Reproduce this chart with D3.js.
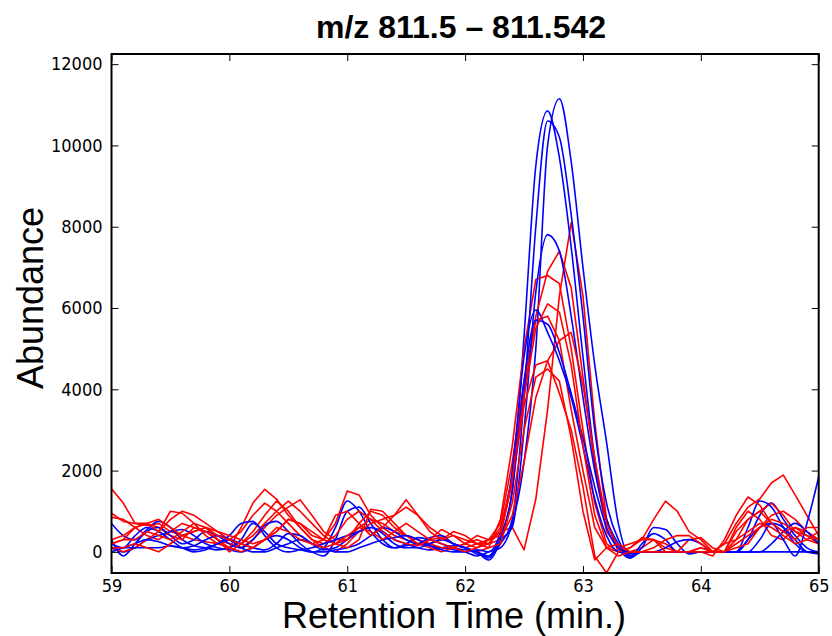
<!DOCTYPE html>
<html>
<head>
<meta charset="utf-8">
<script src="https://cdn.jsdelivr.net/npm/d3@7"></script>
<style>
  body { margin: 0; background: #fff; }
  .tick text { font-family: "DejaVu Sans Condensed", "DejaVu Sans", sans-serif; font-size: 18px; fill: #000; }
  .tick line { stroke: #000; stroke-width: 1; }
</style>
</head>
<body>
<svg id="chart" width="832" height="636"></svg>
<script>
var times = [
  59.0, 59.1, 59.2, 59.3, 59.4, 59.5, 59.6, 59.7, 59.8, 59.9,
  60.0, 60.1, 60.2, 60.3, 60.4, 60.5, 60.6, 60.7, 60.8, 60.9,
  61.0, 61.1, 61.2, 61.3, 61.4, 61.5, 61.6, 61.7, 61.8, 61.9,
  62.0, 62.1, 62.2, 62.3, 62.4, 62.5, 62.6, 62.7, 62.8, 62.9,
  63.0, 63.1, 63.2, 63.3, 63.4, 63.5, 63.6, 63.7, 63.8, 63.9,
  64.0, 64.1, 64.2, 64.3, 64.4, 64.5, 64.6, 64.7, 64.8, 64.9, 65.0
];

var xTicks = [59, 60, 61, 62, 63, 64, 65];
var yTicks = [0, 2000, 4000, 6000, 8000, 10000, 12000];

// red runs
var red1 = [1550, 1200, 700, 650, 700, 500, 400, 300, 250, 200,
  300, 500, 900, 1200, 1000, 700, 400, 200, 300, 700,
  1500, 1400, 900, 600, 400, 300, 200, 300, 350, 200,
  100, 200, 300, 500, 600, 50, 1300, 3500, 6300, 8100,
  6300, 3200, 800, 0, 0, 100, 300, 200, 0, 0,
  100, 0, 0, 600, 1000, 800, 400, 300, 600, 500, 300];
var red2 = [950, 750, 700, 700, 600, 400, 300, 600, 500, 300,
  200, 100, 300, 600, 900, 1100, 1280, 900, 500, 300,
  300, 600, 800, 700, 500, 400, 300, 200, 300, 500,
  400, 200, 200, 600, 1800, 3900, 5800, 6900, 7400, 6500,
  4300, 2100, 500, 100, 200, 300, 800, 1250, 1000, 500,
  300, 0, 0, 300, 800, 1000, 1200, 900, 500, 300, 200];
var red3 = [850, 800, 600, 400, 300, 500, 700, 600, 500, 300,
  100, 600, 1200, 1540, 1300, 900, 600, 300, 100, 0,
  200, 500, 700, 800, 900, 1100, 900, 600, 400, 200,
  100, 0, 100, 800, 2600, 5000, 6700, 6800, 6600, 5000,
  3000, 1200, 200, 0, 0, 0, 0, 0, 0, 0,
  0, 0, 200, 700, 1100, 1300, 1700, 1890, 1400, 900, 400];
var red4 = [300, 400, 600, 700, 500, 800, 1000, 900, 700, 500,
  300, 200, 400, 700, 1000, 1250, 1000, 700, 400, 200,
  300, 700, 1000, 900, 600, 400, 300, 200, 100, 100,
  200, 400, 300, 700, 2200, 4200, 5700, 5800, 5200, 3500,
  2000, 600, 100, 0, 100, 350, 300, 100, 0, 0,
  0, -100, 300, 900, 1350, 1150, 700, 500, 600, 400, 200];
var red5 = [100, 0, 100, 300, 500, 1000, 950, 700, 400, 200,
  100, 0, 100, 300, 500, 800, 700, 500, 300, 200,
  100, 300, 1050, 1000, 700, 400, 200, 100, 0, 100,
  200, 300, 200, 300, 900, 2200, 3800, 4700, 5200, 5400,
  4100, 2300, 700, 100, 0, 0, 0, 0, 0, 300,
  350, 100, 0, 100, 200, 600, 900, 1000, 800, 500, 300];
var red6 = [200, 300, 600, 700, 800, 600, 400, 500, 600, 300,
  0, 200, 500, 900, 1250, 1000, 600, 300, 200, 400,
  800, 1000, 800, 500, 300, 200, 150, 300, 550, 400,
  200, 100, 300, 400, 1700, 3600, 4600, 4700, 3900, 3000,
  1600, -100, -520, 0, 100, 300, 300, 0, 0, 0,
  100, 0, 200, 300, 500, 700, 600, 400, 200, 300, 500];
var red7 = [100, 100, 200, 100, 0, 200, 400, 500, 600, 500,
  400, 300, 200, 300, 500, 800, 700, 400, 300, 900,
  1000, 700, 400, 600, 900, 1280, 900, 500, 300, 400,
  300, 200, 100, 200, 1200, 3000, 4300, 4500, 4200, 2800,
  1000, -200, 100, -100, 0, 0, 0, 0, 0, 0,
  0, 0, 0, 200, 400, 600, 800, 700, 500, 400, 300];
var red8 = [200, 300, 300, 500, 400, 300, 500, 700, 600, 400,
  300, 200, 100, 300, 600, 500, 300, 200, 100, 200,
  400, 600, 500, 300, 500, 700, 500, 300, 200, 100,
  0, 100, 200, 500, 1800, 3800, 5500, 6100, 5900, 4600,
  2600, 900, 100, 200, 0, 0, 100, 300, 400, 400,
  200, 0, 0, 500, 800, 1000, 700, 500, 300, 600, 600];

// blue runs
var blue1 = [700, 400, 300, 550, 750, 600, 300, 150, 100, 50,
  100, 300, 700, 500, 200, 100, 50, 0, 100, 600,
  1250, 1000, 500, 200, 100, 150, 200, 150, 100, 50,
  0, -100, 0, 100, 700, 2200, 5000, 10000, 11150, 9600,
  7000, 4600, 2700, 700, -100, 0, 0, 0, 0, 0,
  0, 0, 0, 0, 300, 900, 1200, 800, 400, 100, 0];
var blue2 = [300, -100, 200, 500, 600, 400, 200, 300, 500, 400,
  200, 100, 300, 650, 750, 500, 200, 0, -100, 300,
  1000, 1100, 700, 300, 100, 200, 350, 300, 200, 100,
  50, 0, -150, 400, 1500, 5300, 9500, 10850, 9700, 7500,
  4800, 2300, 800, 100, -150, 200, 450, 300, 0, 0,
  0, 0, 0, 0, 0, 300, 700, 600, 300, 0, -50];
var blue3 = [200, 100, 400, 600, 500, 300, 100, 0, 50, 200,
  300, 200, 100, 50, 200, 450, 400, 200, 50, 100,
  300, 500, 600, 500, 300, 200, 100, 50, 100, 150,
  100, 0, -100, 200, 800, 3800, 8000, 10600, 10200, 8300,
  5800, 3000, 1200, 300, -100, 100, 600, 550, 200, -50,
  0, 0, 0, 0, 600, 1250, 1100, 600, 200, 0, 0];
var blue4 = [100, 0, 100, 300, 400, 500, 550, 400, 200, 100,
  50, 0, 100, 300, 400, 300, 100, 0, 0, 50,
  100, 200, 400, 600, 500, 300, 200, 350, 400, 200,
  100, -50, -100, 300, 600, 3000, 6400, 7800, 7400, 5800,
  3800, 2000, 800, 200, -150, 0, 0, 0, 0, 0,
  0, 0, 0, 0, 300, 600, 700, 300, -100, 700, 1850];
var blue5 = [0, 100, 200, 300, 250, 150, 100, 150, 300, 400,
  300, 100, 0, 0, 100, 200, 300, 200, 100, 0,
  0, 100, 200, 300, 350, 400, 300, 150, 50, 0,
  0, 50, 0, 500, 2000, 4800, 5950, 5400, 4700, 3800,
  2600, 1300, 400, 0, -50, 0, 0, 100, 250, 300,
  200, 0, 0, 0, 0, 0, 200, 500, 700, 500, 200];
var blue6 = [100, 100, 100, 100, 100, 150, 100, 50, 100, 200,
  400, 700, 750, 400, 100, 0, 50, 100, 200, 300,
  400, 500, 600, 450, 200, 100, 100, 200, 300, 200,
  100, 0, -200, 300, 1500, 4200, 5700, 5600, 4900, 3900,
  2800, 1600, 600, 100, 0, 0, 0, 0, 0, 0,
  0, 0, 0, 0, 0, 0, 0, 0, 0, 0, 0];

var runs = [
  { color: "#ff0000", values: red1 }, { color: "#0000ff", values: blue1 },
  { color: "#ff0000", values: red2 }, { color: "#0000ff", values: blue2 },
  { color: "#ff0000", values: red3 }, { color: "#0000ff", values: blue3 },
  { color: "#ff0000", values: red4 }, { color: "#0000ff", values: blue4 },
  { color: "#ff0000", values: red5 }, { color: "#0000ff", values: blue5 },
  { color: "#ff0000", values: red6 }, { color: "#0000ff", values: blue6 },
  { color: "#ff0000", values: red7 },
  { color: "#ff0000", values: red8 }
];

function drawChart() {
  var plotLeft = 111.5, plotRight = 818.7, plotTop = 54, plotBottom = 573;

  var svg = d3.select("#chart");

  var x = d3.scaleLinear().domain([59, 65]).range([plotLeft, plotRight]);
  var y = d3.scaleLinear().domain([-520, 12250]).range([plotBottom, plotTop]);

  svg.append("defs").append("clipPath").attr("id", "plotclip")
    .append("rect")
    .attr("x", plotLeft).attr("y", plotTop)
    .attr("width", plotRight - plotLeft).attr("height", plotBottom - plotTop);

  var lineLinear = d3.line()
    .x(function(d, i) { return x(times[i]); })
    .y(function(d) { return y(d); });

  var lineSmooth = d3.line()
    .x(function(d, i) { return x(times[i]); })
    .y(function(d) { return y(d); })
    .curve(d3.curveMonotoneX);

  var g = svg.append("g").attr("clip-path", "url(#plotclip)");

  runs.forEach(function(r) {
    g.append("path")
      .attr("fill", "none")
      .attr("stroke", r.color)
      .attr("stroke-width", 1.6)
      .attr("stroke-linejoin", "round")
      .attr("d", r.color === "#0000ff" ? lineSmooth(r.values) : lineLinear(r.values));
  });

  var tickLen = 7;

  var xAxis = svg.append("g")
    .attr("transform", "translate(0," + plotBottom + ")")
    .call(d3.axisBottom(x).tickValues(xTicks).tickFormat(d3.format("d"))
      .tickSizeInner(-tickLen).tickSizeOuter(0).tickPadding(6));
  xAxis.select(".domain").remove();

  var xTop = svg.append("g")
    .attr("transform", "translate(0," + plotTop + ")")
    .call(d3.axisTop(x).tickValues(xTicks).tickFormat("")
      .tickSizeInner(-tickLen).tickSizeOuter(0));
  xTop.select(".domain").remove();

  var yAxis = svg.append("g")
    .attr("transform", "translate(" + plotLeft + ",0)")
    .call(d3.axisLeft(y).tickValues(yTicks).tickFormat(d3.format("d"))
      .tickSizeInner(-tickLen).tickSizeOuter(0).tickPadding(9));
  yAxis.select(".domain").remove();

  var yRight = svg.append("g")
    .attr("transform", "translate(" + plotRight + ",0)")
    .call(d3.axisRight(y).tickValues(yTicks).tickFormat("")
      .tickSizeInner(-tickLen).tickSizeOuter(0));
  yRight.select(".domain").remove();

  svg.append("rect")
    .attr("x", plotLeft).attr("y", plotTop)
    .attr("width", plotRight - plotLeft).attr("height", plotBottom - plotTop)
    .attr("fill", "none")
    .attr("stroke", "#000")
    .attr("stroke-width", 2);

  svg.append("text")
    .attr("x", 461).attr("y", 38)
    .attr("text-anchor", "middle")
    .attr("font-family", "Liberation Sans, Arial, sans-serif")
    .attr("font-weight", "bold")
    .attr("font-size", 32)
    .text("m/z 811.5 \u2013 811.542");

  svg.append("text")
    .attr("x", 454).attr("y", 628)
    .attr("text-anchor", "middle")
    .attr("font-family", "Liberation Sans, Arial, sans-serif")
    .attr("font-size", 36)
    .text("Retention Time (min.)");

  svg.append("text")
    .attr("transform", "translate(43,298) rotate(-90)")
    .attr("text-anchor", "middle")
    .attr("font-family", "Liberation Sans, Arial, sans-serif")
    .attr("font-size", 36)
    .text("Abundance");
}

drawChart();
</script>
</body>
</html>
